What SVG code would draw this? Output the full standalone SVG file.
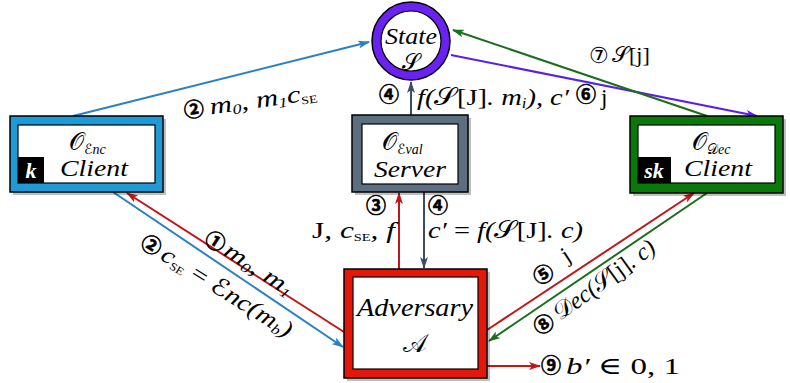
<svg xmlns="http://www.w3.org/2000/svg" width="790" height="383" viewBox="0 0 790 383">
<style>
.m{font-family:"Liberation Serif","DejaVu Serif",serif;font-style:italic;fill:#000}
.r{font-family:"Liberation Serif","DejaVu Serif",serif;font-style:normal;fill:#000}
.c{font-family:"Noto Sans CJK SC","DejaVu Sans",sans-serif;font-weight:bold;fill:#000;stroke:#000;stroke-width:0.6}
.cal{font-family:"DejaVu Serif","DejaVu Sans","Noto Sans CJK SC",serif;font-style:normal}
.ln{fill:none;stroke-width:2}
.box{stroke:#000;stroke-width:1.5}
.inner{fill:#fff;stroke:#000;stroke-width:1.2}
.sh{fill:#000;opacity:.25}
</style>
<defs>
<marker id="aB" viewBox="0 0 12 8" refX="11" refY="4" markerWidth="12" markerHeight="8" markerUnits="userSpaceOnUse" orient="auto"><path d="M0,0 L12,4 L0,8 L3,4 Z" fill="#2a80c0"/></marker>
<marker id="aP" viewBox="0 0 12 8" refX="11" refY="4" markerWidth="12" markerHeight="8" markerUnits="userSpaceOnUse" orient="auto"><path d="M0,0 L12,4 L0,8 L3,4 Z" fill="#5a1ee6"/></marker>
<marker id="aG" viewBox="0 0 12 8" refX="11" refY="4" markerWidth="12" markerHeight="8" markerUnits="userSpaceOnUse" orient="auto"><path d="M0,0 L12,4 L0,8 L3,4 Z" fill="#1a6e1a"/></marker>
<marker id="aR" viewBox="0 0 12 8" refX="11" refY="4" markerWidth="12" markerHeight="8" markerUnits="userSpaceOnUse" orient="auto"><path d="M0,0 L12,4 L0,8 L3,4 Z" fill="#c0161a"/></marker>
<marker id="aD" viewBox="0 0 12 8" refX="11" refY="4" markerWidth="12" markerHeight="8" markerUnits="userSpaceOnUse" orient="auto"><path d="M0,0 L12,4 L0,8 L3,4 Z" fill="#3b4e60"/></marker>
</defs>

<g id="connectors">
<line class="ln" x1="73" y1="116" x2="369" y2="42" stroke="#2a80c0" marker-end="url(#aB)"/>
<line class="ln" x1="451" y1="55" x2="757" y2="116" stroke="#5a1ee6" marker-end="url(#aP)"/>
<line class="ln" x1="707" y1="116" x2="453" y2="30" stroke="#1a6e1a" marker-end="url(#aG)"/>
<line class="ln" x1="411" y1="115" x2="411" y2="82" stroke="#3b4e60" marker-end="url(#aD)"/>
<line class="ln" x1="399" y1="269" x2="399" y2="193" stroke="#c0161a" marker-end="url(#aR)"/>
<line class="ln" x1="424" y1="192" x2="424" y2="268" stroke="#3b4e60" marker-end="url(#aD)"/>
<line class="ln" x1="344" y1="332" x2="127" y2="193" stroke="#c0161a" marker-end="url(#aR)"/>
<line class="ln" x1="113" y1="192" x2="343" y2="347" stroke="#2a80c0" marker-end="url(#aB)"/>
<line class="ln" x1="487" y1="330" x2="694" y2="193" stroke="#c0161a" marker-end="url(#aR)"/>
<line class="ln" x1="707" y1="193" x2="489" y2="341" stroke="#1a6e1a" marker-end="url(#aG)"/>
<line class="ln" x1="487" y1="366" x2="540" y2="366" stroke="#c0161a" marker-end="url(#aR)"/>
</g>

<g id="state">
<circle cx="411" cy="41" r="39" fill="#6a22f0" stroke="#000" stroke-width="1.5"/>
<circle cx="411" cy="41" r="30" fill="#fff" stroke="#000" stroke-width="1.2"/>
<text class="m" x="411" y="44" font-size="24" text-anchor="middle" textLength="52" lengthAdjust="spacingAndGlyphs">State</text>
<text class="cal" x="411" y="70" font-size="23" text-anchor="middle">𝒮</text>
</g>

<g id="enc-client">
<rect class="sh" x="13" y="119" width="153" height="76"/>
<rect class="box" x="10" y="116" width="153" height="76" fill="#1e9ad6"/>
<rect class="inner" x="18" y="125" width="137" height="58"/>
<rect x="18" y="157" width="26" height="26" fill="#000"/>
<text class="m" x="31" y="178" font-size="22" font-weight="bold" style="fill:#fff" text-anchor="middle">k</text>
<text class="cal" x="69" y="150" font-size="24">𝒪<tspan font-size="14" dy="4">ℰ</tspan><tspan class="m" font-size="14">nc</tspan></text>
<text class="m" x="60" y="176" font-size="23" textLength="68" lengthAdjust="spacingAndGlyphs">Client</text>
</g>

<g id="eval-server">
<rect class="sh" x="355" y="118" width="116" height="77"/>
<rect class="box" x="352" y="115" width="116" height="77" fill="#5d6e80"/>
<rect class="inner" x="362" y="124" width="96" height="60"/>
<text class="cal" x="382" y="150" font-size="24">𝒪<tspan font-size="14" dy="4">ℰ</tspan><tspan class="m" font-size="14">val</tspan></text>
<text class="m" x="410" y="177" font-size="23" text-anchor="middle" textLength="72" lengthAdjust="spacingAndGlyphs">Server</text>
</g>

<g id="dec-client">
<rect class="sh" x="633" y="119" width="153" height="77"/>
<rect class="box" x="630" y="116" width="153" height="77" fill="#097a09"/>
<rect class="inner" x="638" y="125" width="137" height="58"/>
<rect x="638" y="157" width="33" height="26" fill="#000"/>
<text class="m" x="654" y="178" font-size="22" font-weight="bold" style="fill:#fff" text-anchor="middle">sk</text>
<text class="cal" x="692" y="150" font-size="24">𝒪<tspan font-size="14" dy="4">𝒟</tspan><tspan class="m" font-size="14">ec</tspan></text>
<text class="m" x="684" y="176" font-size="23" textLength="68" lengthAdjust="spacingAndGlyphs">Client</text>
</g>

<g id="adversary">
<rect class="sh" x="347" y="272" width="143" height="109"/>
<rect class="box" x="344" y="269" width="143" height="109" fill="#e3170a"/>
<rect class="inner" x="353" y="277" width="125" height="92"/>
<text class="m" x="415" y="316" font-size="25" text-anchor="middle" textLength="116" lengthAdjust="spacingAndGlyphs">Adversary</text>
<text class="cal" x="415" y="352" font-size="25" text-anchor="middle">𝒜</text>
</g>

<g id="labels">
<g transform="translate(185,118) rotate(-8)">
<text class="c" x="0" y="0" font-size="20">②</text>
<text class="m" x="26" y="0" font-size="24" textLength="108" lengthAdjust="spacingAndGlyphs">m<tspan font-size="14" dy="3">0</tspan><tspan dy="-3">, m</tspan><tspan font-size="14" dy="3">1</tspan><tspan dy="-3">c</tspan><tspan class="r" font-size="11" dy="3">SE</tspan></text>
</g>
<text class="c" x="379" y="102" font-size="20">④</text>
<text class="m" x="417" y="105" font-size="24" textLength="152" lengthAdjust="spacingAndGlyphs">f(<tspan class="cal">𝒮</tspan><tspan class="r">[J]</tspan>. m<tspan font-size="14" dy="3">i</tspan><tspan dy="-3">), c′</tspan></text>
<text class="c" x="576" y="102" font-size="20">⑥</text>
<text class="r" x="601" y="105" font-size="23">j</text>
<text class="r" x="589" y="63" font-size="22">⑦</text>
<text class="cal" x="612" y="62" font-size="22">𝒮<tspan class="r">[j]</tspan></text>

<g transform="translate(203,242) rotate(33)">
<text class="c" x="0" y="0" font-size="20">①</text>
<text class="m" x="23" y="0" font-size="24" textLength="78" lengthAdjust="spacingAndGlyphs">m<tspan font-size="14" dy="3">0</tspan><tspan dy="-3">, m</tspan><tspan font-size="14" dy="3">1</tspan></text>
</g>
<g transform="translate(139,246) rotate(32)">
<text class="c" x="0" y="0" font-size="20">②</text>
<text class="m" x="24" y="0" font-size="24" textLength="150" lengthAdjust="spacingAndGlyphs">c<tspan class="r" font-size="11" dy="3">SE</tspan><tspan dy="-3" class="r"> = </tspan><tspan class="cal">ℰ</tspan>nc(m<tspan font-size="14" dy="3">b</tspan><tspan dy="-3">)</tspan></text>
</g>

<text class="c" x="366" y="213" font-size="20">③</text>
<text class="m" x="312" y="238" font-size="24" textLength="83" lengthAdjust="spacingAndGlyphs"><tspan class="r">J</tspan>, c<tspan class="r" font-size="11" dy="3">SE</tspan><tspan dy="-3">, f</tspan></text>
<text class="c" x="428" y="213" font-size="20">④</text>
<text class="m" x="428" y="238" font-size="24" textLength="155" lengthAdjust="spacingAndGlyphs">c′ <tspan class="r">=</tspan> f(<tspan class="cal">𝒮</tspan><tspan class="r">[J]</tspan>. c)</text>

<g transform="translate(539,286) rotate(-33)">
<text class="c" x="0" y="0" font-size="20">⑤</text>
<text class="r" x="36" y="-4" font-size="23">j</text>
</g>
<g transform="translate(540,336) rotate(-36)">
<text class="c" x="0" y="0" font-size="20">⑧</text>
<text class="m" x="25" y="0" font-size="24" textLength="120" lengthAdjust="spacingAndGlyphs"><tspan class="cal">𝒟</tspan>ec(<tspan class="cal">𝒮</tspan><tspan class="r">[j]</tspan>. c)</text>
</g>

<text class="c" x="541" y="373" font-size="20">⑨</text>
<text class="m" x="566" y="374" font-size="24" textLength="114" lengthAdjust="spacingAndGlyphs">b′ <tspan class="r">∈ 0, 1</tspan></text>
</g>
</svg>
